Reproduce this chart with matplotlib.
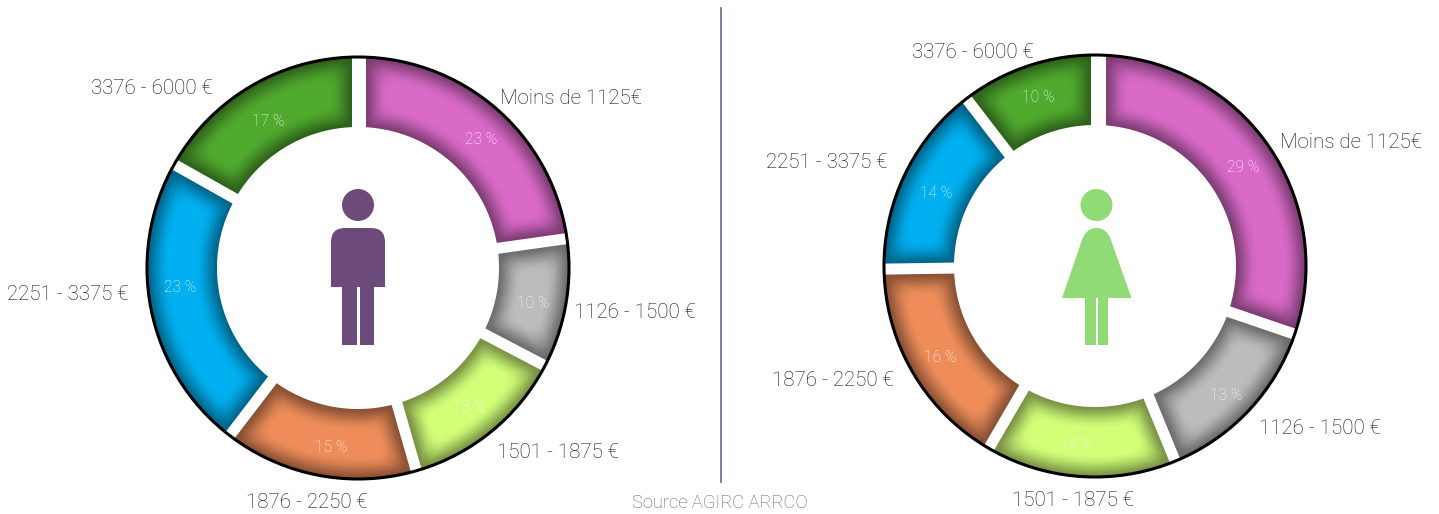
#!/usr/bin/env python3
# coding=utf-8

import numpy as np
import matplotlib
matplotlib.use("Agg")
import matplotlib.pyplot as plt
from matplotlib.colors import to_rgb
from matplotlib.patches import Circle, Polygon, Rectangle, PathPatch
from matplotlib.path import Path

plt.rcParams["font.family"] = ["Roboto", "DejaVu Sans"]

categories = ["Moins de 1125€", "1126 - 1500 €", "1501 - 1875 €",
              "1876 - 2250 €", "2251 - 3375 €", "3376 - 6000 €"]
men_values = [23, 10, 13, 15, 23, 17]
women_values = [29, 13, 14, 15.7, 14.2, 10]
source_text = "Source AGIRC ARRCO"

colors = ["#D96AC8", "#BCBCBC", "#D2FF78", "#EE8D5A", "#00B0F0", "#50AA2E"]

# left edge / vertical middle of each label, in pixels
men_label_pos = [(500, 98), (574, 312), (497, 453), (246, 502), (7, 294), (91, 88)]
women_label_pos = [(1280, 142), (1259, 429), (1012, 501), (772, 381), (766, 163), (912, 52)]
men_pct_pos = [(481, 140), (533, 303), (469, 408), (331, 448), (180, 288), (268, 121)]
women_pct_pos = [(1243, 168), (1226, 396), (1076, 446), (940, 357), (936, 193), (1038, 97)]

R_OUT = 210.5
R_IN = 141
GAP = 5.5
SHADE = 22
ROUND = 10

fig = plt.figure(figsize=(14.39, 5.14), dpi=100)
ax = fig.add_axes([0, 0, 1, 1])
ax.set_xlim(0, 1439)
ax.set_ylim(514, 0)
ax.axis("off")


def shade(col, t):
    # t=0 at the edge of the wedge, t=1 in the flat part
    c = np.array(to_rgb(col))
    t = min(t, 1.0)
    k = 0.58 + 0.42 * (t * t * (3 - 2 * t)) ** 0.7
    return tuple(c * k)


def wedge_points(cx, cy, a1, a2, d, g1, g2):
    ro = R_OUT - d
    ri = R_IN + d
    n = 120
    outer = np.linspace(a1 + np.arcsin((g1 + d) / ro), a2 - np.arcsin((g2 + d) / ro), n)
    inner = np.linspace(a2 - np.arcsin((g2 + d) / ri), a1 + np.arcsin((g1 + d) / ri), n)
    xs = np.r_[cx + ro * np.sin(outer), cx + ri * np.sin(inner)]
    ys = np.r_[cy - ro * np.cos(outer), cy - ri * np.cos(inner)]
    return np.c_[xs, ys]


def donut(cx, cy, values, label_pos, pct_pos, top_right, top_left):
    frac = np.cumsum([0] + values) / sum(values)
    for i, v in enumerate(values):
        a1 = 2 * np.pi * frac[i]
        a2 = 2 * np.pi * frac[i + 1]
        # the gap at twelve o'clock is wider than the others and not centred
        g1 = top_right if i == 0 else GAP
        g2 = top_left if i == len(values) - 1 else GAP
        ax.add_patch(Polygon(wedge_points(cx, cy, a1, a2, 0, g1, g2), closed=True,
                             fc=shade(colors[i], 0), ec="none"))
        # rounded strokes make the inner shadow soft at the corners
        for d in np.arange(0.75, SHADE + 0.1, 0.75):
            ax.add_patch(Polygon(wedge_points(cx, cy, a1, a2, d + ROUND, g1, g2), closed=True,
                                 fc=shade(colors[i], d / SHADE), ec=shade(colors[i], d / SHADE),
                                 lw=2 * ROUND * 0.72, joinstyle="round"))
        ax.text(pct_pos[i][0], pct_pos[i][1], "%.0f %%" % v,
                color="white", alpha=0.95, fontsize=11.2, fontweight="light",
                ha="center", va="center")
        ax.text(label_pos[i][0], label_pos[i][1], categories[i], color="#111111",
                fontsize=14.8, fontweight="light", ha="left", va="center")
    ax.add_patch(Circle((cx, cy), R_OUT + 0.5, fc="none", ec="black", lw=2.2))


donut(358, 268, men_values, men_label_pos, men_pct_pos, 8, 6)
donut(1095, 266, women_values, women_label_pos, women_pct_pos, 11, 4)

# separator and source
ax.plot([721, 721], [8, 482], color="#7A5A8C", lw=1.2)
ax.text(720, 503, source_text, color="#666666", fontsize=13.2, fontweight="light",
        ha="center", va="center")

# man
man = "#6C4A7A"
ax.add_patch(Circle((358, 205), 16, fc=man, ec="none"))
verts = [(331, 287), (331, 242), (331, 228), (345, 228), (371, 228), (385, 228),
         (385, 242), (385, 287), (331, 287)]
codes = [Path.MOVETO, Path.LINETO, Path.CURVE3, Path.CURVE3, Path.LINETO, Path.CURVE3,
         Path.CURVE3, Path.LINETO, Path.CLOSEPOLY]
ax.add_patch(PathPatch(Path(verts, codes), fc=man, ec="none"))
ax.add_patch(Rectangle((342, 286), 14.5, 59, fc=man, ec="none"))
ax.add_patch(Rectangle((359.5, 286), 14, 59, fc=man, ec="none"))

# woman
woman = "#90DB75"
ax.add_patch(Circle((1096.5, 205), 16, fc=woman, ec="none"))
verts = [(1062, 298), (1082, 240), (1086, 228), (1096.5, 228), (1107, 228), (1111, 240),
         (1131.5, 298), (1062, 298)]
codes = [Path.MOVETO, Path.LINETO, Path.CURVE3, Path.CURVE3, Path.CURVE3, Path.CURVE3,
         Path.LINETO, Path.CLOSEPOLY]
ax.add_patch(PathPatch(Path(verts, codes), fc=woman, ec="none"))
ax.add_patch(Rectangle((1085, 297), 10.5, 48, fc=woman, ec="none"))
ax.add_patch(Rectangle((1098, 297), 10, 48, fc=woman, ec="none"))

fig.savefig("out.png", dpi=100, facecolor="white")
